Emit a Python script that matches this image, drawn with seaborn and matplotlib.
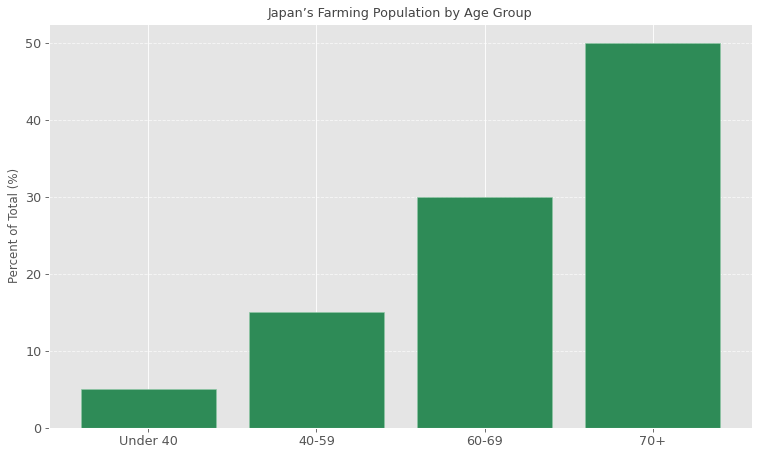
import matplotlib
matplotlib.use("Agg")
import matplotlib.pyplot as plt
import seaborn as sns
import pandas as pd

age_groups = ["Under 40", "40-59", "60-69", "70+"]
percent_of_total = [5, 15, 30, 50]

df = pd.DataFrame({"Age Group": age_groups, "Percent": percent_of_total})

plt.style.use("ggplot")

fig, ax = plt.subplots(figsize=(10, 5.964), dpi=76.8)
sns.barplot(data=df, x="Age Group", y="Percent", color="#2E8B57",
            saturation=1, width=0.8, edgecolor="#8fc7a5", linewidth=0.6, ax=ax)
ax.set_xlim(-0.59, 3.59)
ax.set_ylim(0, 52.5)
ax.set_title("Japan\u2019s Farming Population by Age Group", fontsize=12, color="#444444")
ax.set_xlabel("")
ax.set_ylabel("Percent of Total (%)", fontsize=11, color="#555555")
ax.tick_params(axis="both", labelsize=12, length=3.5, width=0.8, color="#555555", direction="out")
ax.xaxis.grid(True, color="white", linewidth=0.8)
ax.yaxis.grid(True, color="white", linewidth=0.8, linestyle="--", alpha=0.7)
ax.set_axisbelow(True)

fig.subplots_adjust(left=0.064, right=0.979, top=0.948, bottom=0.066)
fig.savefig("out.png", dpi=76.8)
